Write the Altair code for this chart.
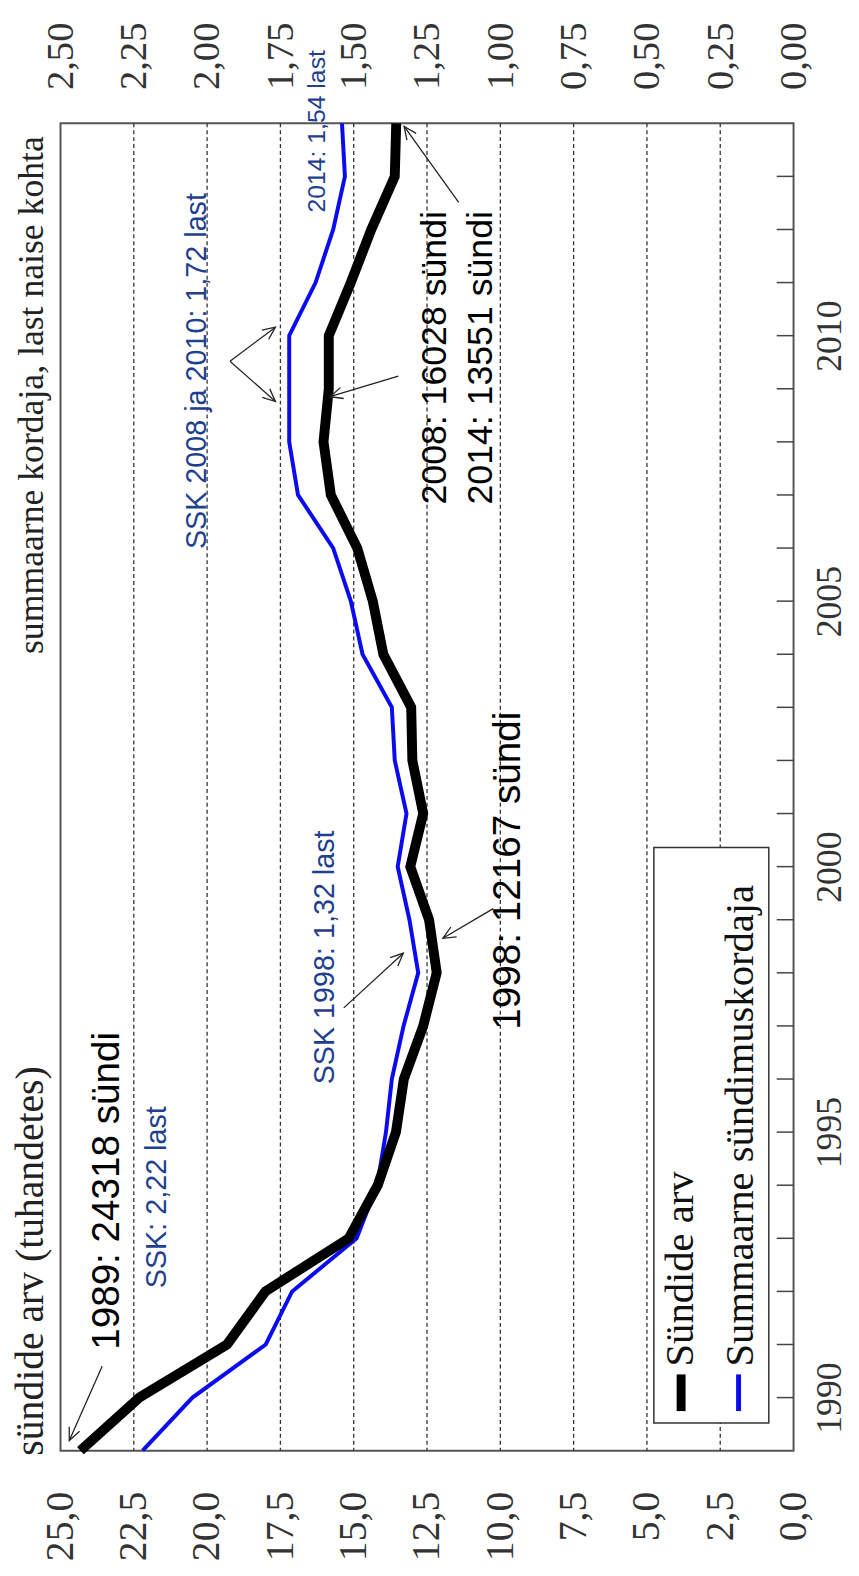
import math
import altair as alt
import pandas as pd

# ---------------- data ----------------
years = list(range(1989, 2015))
births_thousands = [24.32, 22.31, 19.32, 18.01, 15.17, 14.18, 13.56, 13.29, 12.63, 12.17,
                    12.43, 13.07, 12.63, 13.00, 13.04, 13.99, 14.35, 14.88, 15.78, 16.03,
                    15.85, 15.85, 15.10, 14.40, 13.60, 13.55]
tfr = [2.22, 2.05, 1.80, 1.71, 1.49, 1.42, 1.39, 1.37, 1.33, 1.28,
       1.31, 1.35, 1.32, 1.36, 1.37, 1.47, 1.51, 1.57, 1.69, 1.72,
       1.72, 1.72, 1.63, 1.57, 1.53, 1.54]

births_ticks = [0, 2.5, 5, 7.5, 10, 12.5, 15, 17.5, 20, 22.5, 25]
grid_values = [2.5, 5, 7.5, 10, 12.5, 15, 17.5, 20, 22.5]
year_labels = [1990, 1995, 2000, 2005, 2010]
minor_years = list(range(1990, 2014))

ann_text = ["1989: 24318 sündi", "SSK: 2,22 last", "SSK 1998: 1,32 last",
            "1998: 12167 sündi", "SSK 2008 ja 2010: 1,72 last", "2014: 1,54 last",
            "2008: 16028 sündi", "2014: 13551 sündi"]
ann_year = [1990.90, 1992.06, 1995.90, 1996.93, 2005.98, 2012.32, 2006.82, 2006.82]
ann_value = [23.01, 21.39, 15.68, 9.32, 20.03, 15.98, 11.86, 10.27]
ann_color = ["#000000", "#1f3f8f", "#1f3f8f", "#000000", "#1f3f8f", "#1f3f8f", "#000000", "#000000"]
ann_size = [39, 29, 29, 39, 29, 25, 36, 36]

arrow_tail_year = [1990.59, 1997.34, 1999.21, 2009.52, 2009.52, 2009.24, 2012.51]
arrow_tail_value = [23.58, 15.34, 10.24, 19.22, 19.22, 13.48, 11.42]
arrow_tip_year = [1989.19, 1998.37, 1998.65, 2010.16, 2008.76, 2008.85, 2013.94]
arrow_tip_value = [24.70, 13.31, 11.96, 17.67, 17.67, 15.81, 13.28]

legend_labels = ["Sündide arv", "Summaarne sündimuskordaja"]
title_births = "sündide arv (tuhandetes)"
title_tfr = "summaarne kordaja, last naise kohta"

# ---------------- layout ----------------
W, H = 740, 1340
PX_X = W / 25.0
PX_Y = H / 25.0
SERIF = "Liberation Serif"
SANS = "Liberation Sans"

xs = alt.Scale(domain=[0, 25], reverse=True, nice=False, zero=False)
ys = alt.Scale(domain=[1989, 2014], nice=False, zero=False)

df = pd.DataFrame({"year": years, "births": births_thousands, "tfr": tfr})

bottom_axis = alt.Axis(orient="bottom", values=births_ticks,
                       labelExpr="replace(format(datum.value, '.1f'), '.', ',')",
                       labelAngle=270, labelAlign="right", labelBaseline="middle",
                       labelPadding=41, labelFont=SERIF, labelFontSize=40, labelColor="#333",
                       ticks=False, tickSize=0, domain=False, grid=False, title=None,
                       labelFlush=False, labelOverlap=False)
top_axis = alt.Axis(orient="top", values=births_ticks,
                    labelExpr="replace(format(datum.value / 10, '.2f'), '.', ',')",
                    labelAngle=270, labelAlign="left", labelBaseline="middle",
                    labelPadding=34, labelFont=SERIF, labelFontSize=39, labelColor="#333",
                    ticks=False, tickSize=0, domain=False, grid=False, title=None,
                    labelFlush=False, labelOverlap=False)
right_axis = alt.Axis(orient="right", values=year_labels, format="d",
                      labelAngle=270, labelAlign="center", labelBaseline="top",
                      labelPadding=19, labelFont=SERIF, labelFontSize=36, labelColor="#333",
                      ticks=False, tickSize=0, domain=False, grid=False, title=None,
                      labelFlush=False, labelOverlap=False)

grid = alt.Chart(pd.DataFrame({"g": grid_values})).mark_rule(
    color="#333", strokeWidth=1.3, strokeDash=[4, 3]
).encode(x=alt.X("g:Q", scale=xs, axis=None))

tick_len = 17 / PX_X
ticks_df = pd.DataFrame({"year": minor_years})
ticks_df["x0"] = 0.0
ticks_df["x1"] = tick_len
inner_ticks = alt.Chart(ticks_df).mark_rule(color="#444", strokeWidth=1.5).encode(
    x=alt.X("x0:Q", scale=xs, axis=None), x2="x1:Q",
    y=alt.Y("year:Q", scale=ys, axis=None))

blue = alt.Chart(df).transform_calculate(tfr10="datum.tfr * 10").mark_line(
    color="#0b0bf0", strokeWidth=4, strokeJoin="miter"
).encode(x=alt.X("tfr10:Q", scale=xs, axis=top_axis),
         y=alt.Y("year:Q", scale=ys, axis=None), order="year:Q")

black = alt.Chart(df).mark_line(color="#000", strokeWidth=10, strokeJoin="miter").encode(
    x=alt.X("births:Q", scale=xs, axis=bottom_axis),
    y=alt.Y("year:Q", scale=ys, axis=right_axis), order="year:Q")

ann_df = pd.DataFrame({"text": ann_text, "year": ann_year, "value": ann_value,
                       "color": ann_color, "size": ann_size})
annotations = alt.Chart(ann_df).mark_text(
    angle=270, align="left", baseline="alphabetic", font=SANS
).encode(x=alt.X("value:Q", scale=xs, axis=None),
         y=alt.Y("year:Q", scale=ys, axis=None),
         text="text:N", color=alt.Color("color:N", scale=None),
         size=alt.Size("size:Q", scale=None))

arr = pd.DataFrame({"ty": arrow_tail_year, "tv": arrow_tail_value,
                    "hy": arrow_tip_year, "hv": arrow_tip_value})
arr["ang"] = [
    math.degrees(math.atan2(-(hy - ty) * PX_Y, -(hv - tv) * PX_X)) % 360
    for ty, tv, hy, hv in zip(arr.ty, arr.tv, arr.hy, arr.hv)
]
arrow_lines = alt.Chart(arr).mark_rule(color="#222", strokeWidth=1.3).encode(
    x=alt.X("tv:Q", scale=xs, axis=None), x2="hv:Q",
    y=alt.Y("ty:Q", scale=ys, axis=None), y2="hy:Q")
arrow_heads = alt.Chart(arr).mark_point(
    shape="M-1,-0.45L0,0L-1,0.45", filled=False, size=650, strokeWidth=1.3,
    color="#222", opacity=1
).encode(x=alt.X("hv:Q", scale=xs, axis=None),
         y=alt.Y("hy:Q", scale=ys, axis=None),
         angle=alt.Angle("ang:Q", scale=None))

one = pd.DataFrame({"k": [0]})
legend_box = alt.Chart(one).mark_rect(fill="white", stroke="#333", strokeWidth=1.5).encode(
    x=alt.value(599), x2=alt.value(715), y=alt.value(731), y2=alt.value(1312))
legend_black = alt.Chart(one).mark_rect(color="#000").encode(
    x=alt.value(622), x2=alt.value(631), y=alt.value(1263), y2=alt.value(1300))
legend_blue = alt.Chart(one).mark_rect(color="#0b0bf0").encode(
    x=alt.value(682), x2=alt.value(687), y=alt.value(1263), y2=alt.value(1300))
legend_t1 = alt.Chart(one).mark_text(
    text=legend_labels[0], angle=270, align="left", baseline="alphabetic",
    font=SERIF, fontSize=41, color="#111").encode(x=alt.value(639), y=alt.value(1255))
legend_t2 = alt.Chart(one).mark_text(
    text=legend_labels[1], angle=270, align="left", baseline="alphabetic",
    font=SERIF, fontSize=41, color="#111").encode(x=alt.value(699), y=alt.value(1255))

title1 = alt.Chart(one).mark_text(
    text=title_births, angle=270, align="left", baseline="alphabetic",
    font=SERIF, fontSize=40, color="#222").encode(x=alt.value(-18), y=alt.value(1345))
title2 = alt.Chart(one).mark_text(
    text=title_tfr, angle=270, align="right", baseline="alphabetic",
    font=SERIF, fontSize=36, color="#222").encode(x=alt.value(-18), y=alt.value(13))

chart = alt.layer(
    grid, inner_ticks, legend_box, blue, black, annotations, arrow_lines, arrow_heads,
    legend_black, legend_blue, legend_t1, legend_t2, title1, title2
).resolve_axis(x="independent", y="independent").properties(
    width=W, height=H,
    padding={"left": 53, "top": 109, "right": 58, "bottom": 106},
    autosize=alt.AutoSizeParams(type="none"),
    background="white",
).configure_view(stroke="#555", strokeWidth=2)

chart.save("out.html", embed_options={"renderer": "svg", "actions": False})
